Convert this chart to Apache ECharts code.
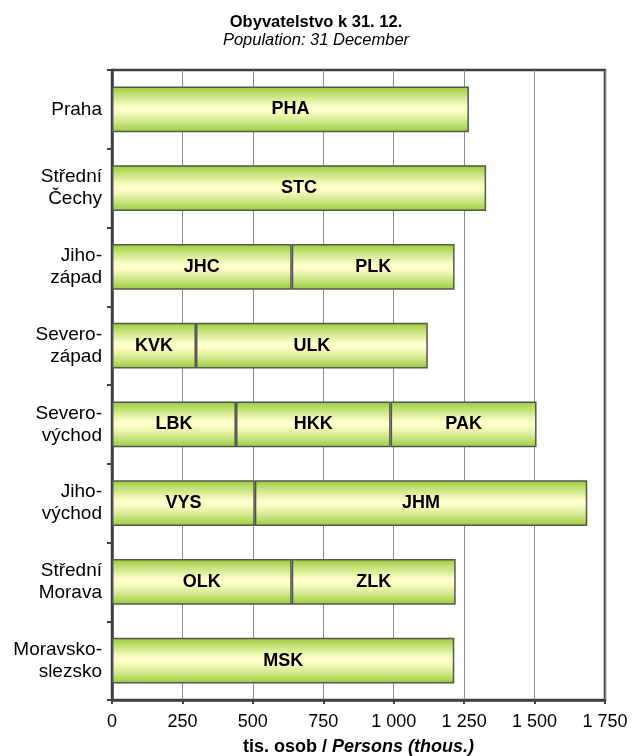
<!DOCTYPE html>
<html>
<head>
<meta charset="utf-8">
<script src="https://cdn.jsdelivr.net/npm/echarts@6/dist/echarts.min.js"></script>
<style>
  html, body { margin: 0; padding: 0; background: #fff; }
  #chart { width: 632px; height: 756px; }
</style>
</head>
<body>
<div id="chart"></div>
<script>
// Cohesion regions (NUTS 2) and their regions, population in thousands
const regions = ['Praha', 'Střední\nČechy', 'Jiho-\nzápad', 'Severo-\nzápad', 'Severo-\nvýchod', 'Jiho-\nvýchod', 'Střední\nMorava', 'Moravsko-\nslezsko'];

const firstCodes = ['PHA', 'STC', 'JHC', 'KVK', 'LBK', 'VYS', 'OLK', 'MSK'];
const firstValues = [1267, 1328, 638, 298, 440, 507, 638, 1215];

const secondCodes = ['', '', 'PLK', 'ULK', 'HKK', 'JHM', 'ZLK', ''];
const secondValues = ['-', '-', 578, 823, 549, 1180, 582, '-'];

const thirdCodes = ['', '', '', '', 'PAK', '', '', ''];
const thirdValues = ['-', '-', '-', '-', 518, '-', '-', '-'];

const xTicks = { min: 0, max: 1750, step: 250 };

const FONT = '"Liberation Sans", Arial, sans-serif';

const barFill = new echarts.graphic.LinearGradient(0, 0, 0, 1, [
  { offset: 0, color: '#99cc33' },
  { offset: 0.18, color: '#c4e27a' },
  { offset: 0.45, color: '#ffffcc' },
  { offset: 0.55, color: '#fcfdc6' },
  { offset: 0.82, color: '#c4e27a' },
  { offset: 1, color: '#99cc33' }
]);

function segment(values, codes) {
  return {
    type: 'bar',
    stack: 'total',
    barWidth: '58%',
    data: values,
    itemStyle: { color: barFill, borderColor: '#555555', borderWidth: 1.5 },
    label: {
      show: true,
      position: 'inside',
      formatter: p => codes[p.dataIndex],
      fontFamily: FONT,
      fontWeight: 'bold',
      fontSize: 18,
      color: '#000'
    },
    emphasis: { disabled: true },
    animation: false
  };
}

const chart = echarts.init(document.getElementById('chart'), null, { renderer: 'canvas' });

chart.setOption({
  animation: false,
  title: {
    text: 'Obyvatelstvo k 31. 12.',
    subtext: 'Population: 31 December',
    left: 'center',
    top: 9,
    itemGap: 1,
    textStyle: { fontFamily: FONT, fontSize: 16.5, fontWeight: 'bold', color: '#000' },
    subtextStyle: { fontFamily: FONT, fontSize: 16.5, fontStyle: 'italic', color: '#000' }
  },
  grid: {
    left: 112, right: 27, top: 70, bottom: 56,
    containLabel: false,
    outerBoundsMode: 'none',
    show: true, borderColor: '#404040', borderWidth: 2.5, backgroundColor: 'transparent'
  },
  xAxis: {
    type: 'value',
    min: xTicks.min,
    max: xTicks.max,
    interval: xTicks.step,
    name: '{b|tis. osob / }{bi|Persons (thous.)}',
    nameLocation: 'middle',
    nameGap: 38,
    nameTextStyle: {
      rich: {
        b: { fontFamily: FONT, fontSize: 18, fontWeight: 'bold', color: '#000' },
        bi: { fontFamily: FONT, fontSize: 18, fontWeight: 'bold', fontStyle: 'italic', color: '#000' }
      }
    },
    axisLine: { show: true, lineStyle: { color: '#404040', width: 2.5 } },
    axisTick: { show: true, length: 4, lineStyle: { color: '#404040', width: 2 } },
    axisLabel: {
      fontFamily: FONT, fontSize: 18, color: '#000', margin: 13,
      formatter: v => String(v).replace(/\B(?=(\d{3})+(?!\d))/g, ' ')
    },
    splitLine: { show: true, lineStyle: { color: '#8c8c8c', width: 1 } }
  },
  yAxis: {
    type: 'category',
    inverse: true,
    data: regions,
    axisLine: { show: true, lineStyle: { color: '#404040', width: 2.5 } },
    axisTick: { show: true, length: 5, lineStyle: { color: '#404040', width: 2 } },
    axisLabel: {
      fontFamily: FONT, fontSize: 19, color: '#000', margin: 10,
      align: 'right', lineHeight: 22
    },
    splitLine: { show: false }
  },
  series: [
    segment(firstValues, firstCodes),
    segment(secondValues, secondCodes),
    segment(thirdValues, thirdCodes)
  ]
});
</script>
</body>
</html>
